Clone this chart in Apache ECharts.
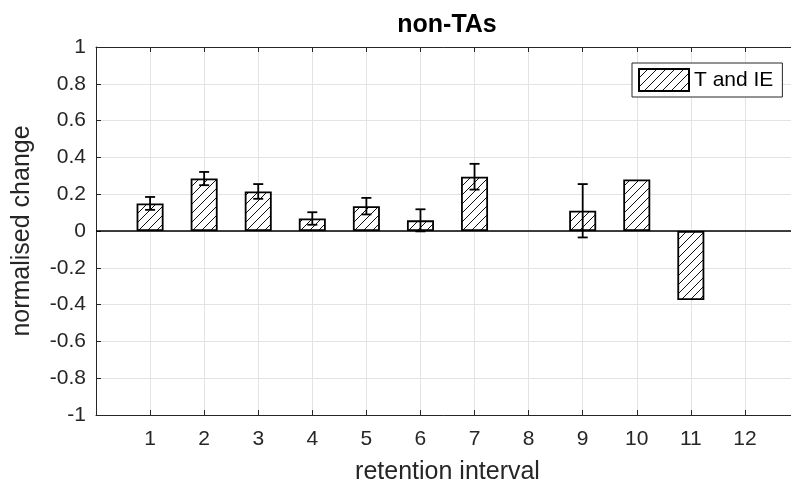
<!DOCTYPE html>
<html lang="en">
<head>
    <meta charset="UTF-8">
    <title>non-TAs</title>
    <script src="https://cdn.jsdelivr.net/npm/echarts@6/dist/echarts.min.js"></script>
    <style>
        html, body { margin: 0; padding: 0; background: #ffffff; overflow: hidden; }
        #main { width: 791px; height: 489px; }
    </style>
</head>
<body>
    <div id="main"></div>
    <script>
        // retention intervals on the x axis
        var categories = [1, 2, 3, 4, 5, 6, 7, 8, 9, 10, 11, 12];
        // normalised change per interval (null = no bar)
        var values = [0.15, 0.285, 0.215, 0.068, 0.135, 0.058, 0.295, null, 0.11, 0.28, -0.375, null];
        // half length of the error bars (null = none drawn)
        var errors = [0.035, 0.036, 0.04, 0.034, 0.045, 0.06, 0.07, null, 0.145, null, null, null];
        var yTicks = [-1, -0.8, -0.6, -0.4, -0.2, 0, 0.2, 0.4, 0.6, 0.8, 1];

        var axisColor = '#262626';
        var gridColor = '#e3e3e3';
        var font = '"Liberation Sans", Arial, Helvetica, sans-serif';

        // diagonal hatch used as bar fill
        function makeHatch() {
            var s = 9;
            var c = document.createElement('canvas');
            c.width = s; c.height = s;
            var g = c.getContext('2d');
            g.fillStyle = '#ffffff';
            g.fillRect(0, 0, s, s);
            g.strokeStyle = '#111111';
            g.lineWidth = 1;
            g.beginPath();
            g.moveTo(-1, s + 1); g.lineTo(s + 1, -1);
            g.moveTo(-1, 1); g.lineTo(1, -1);
            g.moveTo(s - 1, s + 1); g.lineTo(s + 1, s - 1);
            g.stroke();
            return c;
        }
        var hatch = { image: makeHatch(), repeat: 'repeat' };

        var barData = [];
        var errData = [];
        categories.forEach(function (c, i) {
            if (values[i] !== null) barData.push([c, values[i]]);
            if (errors[i] !== null) errData.push([c, values[i] - errors[i], values[i] + errors[i]]);
        });

        var chart = echarts.init(document.getElementById('main'));

        var option = {
            animation: false,
            title: {
                text: 'non-TAs',
                left: 447,
                top: 13,
                padding: 0,
                textAlign: 'center',
                textStyle: { fontFamily: font, fontSize: 25, fontWeight: 'bold', color: '#000' }
            },
            legend: {
                left: 632,
                top: 63,
                padding: [5, 9, 5, 6],
                icon: 'rect',
                itemWidth: 50,
                itemHeight: 22,
                borderColor: axisColor,
                borderWidth: 1,
                backgroundColor: '#fff',
                textStyle: { fontFamily: font, fontSize: 21, color: '#000' },
                data: ['T and IE']
            },
            // the plot box runs past the right edge of the picture (x max 13 sits off-canvas)
            grid: { left: 96, right: -8, top: 47, bottom: 74, outerBoundsMode: 'none' },
            xAxis: [{
                type: 'value',
                min: 0,
                max: 13,
                interval: 1,
                name: 'retention interval',
                nameLocation: 'middle',
                nameGap: 45,
                nameTextStyle: { fontFamily: font, fontSize: 25, color: axisColor },
                axisLine: { onZero: false, lineStyle: { color: axisColor, width: 1 } },
                axisTick: { inside: true, length: 5, lineStyle: { color: axisColor } },
                axisLabel: {
                    margin: 14,
                    fontFamily: font, fontSize: 21, color: axisColor,
                    formatter: function (v) { return categories.indexOf(v) >= 0 ? String(v) : ''; }
                },
                splitLine: { show: true, lineStyle: { color: gridColor, width: 1 } }
            }, {
                // top edge of the box, ticks only
                type: 'value',
                position: 'top',
                min: 0,
                max: 13,
                interval: 1,
                axisLine: { onZero: false, lineStyle: { color: axisColor, width: 1 } },
                axisTick: { inside: true, length: 5, lineStyle: { color: axisColor } },
                axisLabel: { show: false },
                splitLine: { show: false }
            }],
            yAxis: {
                type: 'value',
                min: -1,
                max: 1,
                interval: 0.2,
                name: 'normalised change',
                nameLocation: 'middle',
                nameGap: 61,
                nameTextStyle: { fontFamily: font, fontSize: 25, color: axisColor },
                axisLine: { show: true, onZero: false, lineStyle: { color: axisColor, width: 1 } },
                axisTick: { show: true, inside: true, length: 5, lineStyle: { color: axisColor } },
                axisLabel: {
                    margin: 10,
                    fontFamily: font, fontSize: 21, color: axisColor,
                    formatter: function (v) {
                        var r = Math.round(v * 10) / 10;
                        return yTicks.indexOf(r) >= 0 ? String(r) : '';
                    }
                },
                splitLine: { show: true, lineStyle: { color: gridColor, width: 1 } }
            },
            series: [{
                name: 'T and IE',
                type: 'bar',
                xAxisIndex: 0,
                barWidth: 27,
                data: barData,
                itemStyle: { color: hatch, borderColor: '#000', borderWidth: 1.8 },
                markLine: {
                    silent: true,
                    symbol: 'none',
                    label: { show: false },
                    lineStyle: { color: '#000', type: 'solid', width: 1.5 },
                    data: [{ yAxis: 0 }]
                },
                z: 3
            }, {
                name: 'error',
                type: 'custom',
                xAxisIndex: 0,
                data: errData,
                z: 4,
                renderItem: function (params, api) {
                    var x = api.value(0);
                    var lo = api.coord([x, api.value(1)]);
                    var hi = api.coord([x, api.value(2)]);
                    var cap = 5;
                    var st = { stroke: '#000', lineWidth: 1.8 };
                    return {
                        type: 'group',
                        children: [
                            { type: 'line', shape: { x1: lo[0], y1: lo[1], x2: hi[0], y2: hi[1] }, style: st },
                            { type: 'line', shape: { x1: hi[0] - cap, y1: hi[1], x2: hi[0] + cap, y2: hi[1] }, style: st },
                            { type: 'line', shape: { x1: lo[0] - cap, y1: lo[1], x2: lo[0] + cap, y2: lo[1] }, style: st }
                        ]
                    };
                }
            }]
        };

        chart.setOption(option);
    </script>
</body>
</html>
